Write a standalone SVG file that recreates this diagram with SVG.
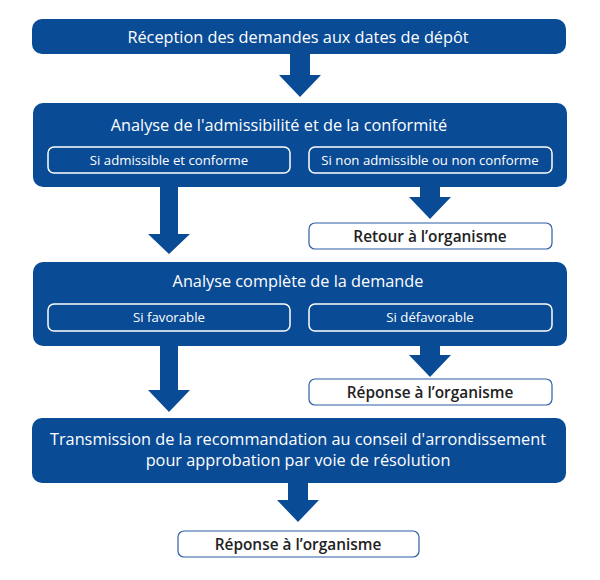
<svg xmlns="http://www.w3.org/2000/svg" width="600" height="580" viewBox="0 0 600 580">
<style>
.main{fill:#0a4b96}
.sub{fill:none;stroke:#ffffff;stroke-width:1.5}
.out{fill:#ffffff;stroke:#2b5fa6;stroke-width:1.2}
.arrow{fill:#0a4b96}
.t{font-family:"Open Sans","Liberation Sans",sans-serif;fill:#ffffff;text-anchor:middle}
.tl{font-size:16.3px}
.ts{font-size:13.2px}
.tb{font-family:"Open Sans","Liberation Sans",sans-serif;font-size:15.4px;font-weight:600;fill:#222222;text-anchor:middle}
</style>
<g id="connectors">
<polygon class="arrow" points="290,53 310,53 310,75 321,75 300,97 279,75 290,75"/>
<polygon class="arrow" points="160,186 178,186 178,234 190,234 169,254 148,234 160,234"/>
<polygon class="arrow" points="420,186 440,186 440,197 451,197 430,219 409,197 420,197"/>
<polygon class="arrow" points="160,345 178,345 178,390 190,390 169,412 148,390 160,390"/>
<polygon class="arrow" points="420,345 440,345 440,355 451,355 430,377 409,355 420,355"/>
<polygon class="arrow" points="288,482 308,482 308,500 319,500 298,522 277,500 288,500"/>
</g>
<g id="n1">
<rect class="main" x="32" y="19" width="534" height="35" rx="10"/>
<text class="t tl" x="298" y="43">Réception des demandes aux dates de dépôt</text>
</g>
<g id="n2">
<rect class="main" x="33" y="103" width="534" height="84" rx="10"/>
<text class="t tl" x="279" y="131">Analyse de l'admissibilité et de la conformité</text>
</g>
<g id="n2a">
<rect class="sub" x="48" y="147" width="242" height="26" rx="6"/>
<text class="t ts" x="169" y="165">Si admissible et conforme</text>
</g>
<g id="n2b">
<rect class="sub" x="309" y="147" width="243" height="26" rx="6"/>
<text class="t ts" x="430" y="165">Si non admissible ou non conforme</text>
</g>
<g id="n2out">
<rect class="out" x="309" y="223" width="243" height="26" rx="6"/>
<text class="tb" x="430" y="241.5">Retour à l’organisme</text>
</g>
<g id="n3">
<rect class="main" x="33" y="262" width="534" height="84" rx="10"/>
<text class="t tl" x="298" y="287">Analyse complète de la demande</text>
</g>
<g id="n3a">
<rect class="sub" x="48" y="304" width="242" height="27" rx="6"/>
<text class="t ts" x="169" y="322">Si favorable</text>
</g>
<g id="n3b">
<rect class="sub" x="309" y="304" width="243" height="27" rx="6"/>
<text class="t ts" x="430" y="322">Si défavorable</text>
</g>
<g id="n3out">
<rect class="out" x="309" y="379" width="243" height="26" rx="6"/>
<text class="tb" x="430" y="397.5">Réponse à l’organisme</text>
</g>
<g id="n4">
<rect class="main" x="32" y="418" width="534" height="65" rx="10"/>
<text class="t tl" x="298" y="445">Transmission de la recommandation au conseil d'arrondissement</text>
<text class="t tl" x="298" y="466">pour approbation par voie de résolution</text>
</g>
<g id="n5">
<rect class="out" x="178" y="531" width="241" height="26" rx="6"/>
<text class="tb" x="298" y="549.5">Réponse à l’organisme</text>
</g>
</svg>
